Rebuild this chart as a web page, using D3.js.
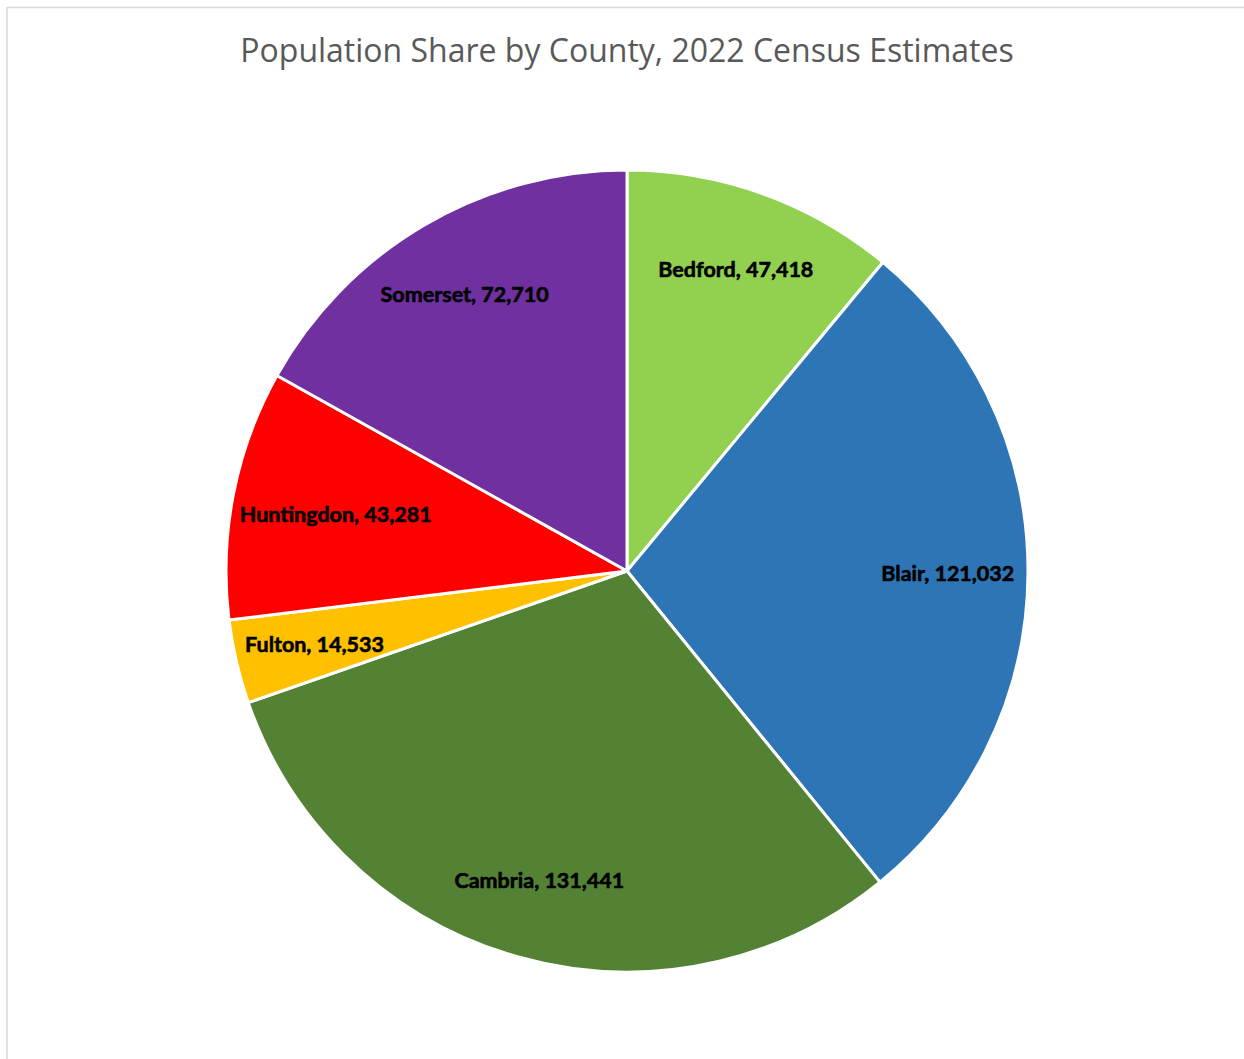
<!DOCTYPE html>
<html>
<head>
<meta charset="utf-8">
<script src="https://cdn.jsdelivr.net/npm/d3@7"></script>
<style>
  html, body { margin: 0; padding: 0; background: #fff; }
  svg { display: block; }
</style>
</head>
<body>
<svg id="chart" width="1244" height="1059"></svg>
<script>
// County populations, 2022 census estimates (clockwise from 12 o'clock)
const counties = ["Bedford", "Blair", "Cambria", "Fulton", "Huntingdon", "Somerset"];
const populations = [47418, 121032, 131441, 14533, 43281, 72710];
const sliceColors = ["#92d050", "#2e75b6", "#548235", "#ffc000", "#ff0000", "#7030a0"];
const chartTitle = "Population Share by County, 2022 Census Estimates";

const svg = d3.select("#chart");
const W = 1244, H = 1059;
const cx = 627, cy = 571, R = 401;

// chart area frame (extends past the right and bottom edges)
svg.append("rect")
  .attr("x", 7).attr("y", 7.5)
  .attr("width", W + 20).attr("height", H + 20)
  .attr("fill", "#fff")
  .attr("stroke", "#d9d9d9").attr("stroke-width", 1.5);

svg.append("text")
  .attr("x", cx).attr("y", 62)
  .attr("text-anchor", "middle")
  .attr("font-family", "'Open Sans', sans-serif")
  .attr("font-size", 32)
  .attr("fill", "#595959")
  .text(chartTitle);

const data = counties.map((c, i) => ({ name: c, value: populations[i], color: sliceColors[i] }));
const pie = d3.pie().value(d => d.value).sort(null);
const arcs = pie(data);
const arc = d3.arc().innerRadius(0).outerRadius(R);

const g = svg.append("g").attr("transform", `translate(${cx},${cy})`);

g.selectAll("path.slice")
  .data(arcs)
  .join("path")
  .attr("class", "slice")
  .attr("d", arc)
  .attr("fill", d => d.data.color)
  .attr("stroke", "#fff")
  .attr("stroke-width", 3)
  .attr("stroke-linejoin", "round");

const fmt = d3.format(",");
const labels = g.selectAll("text.lbl")
  .data(arcs)
  .join("text")
  .attr("class", "lbl")
  .attr("text-anchor", "middle")
  .attr("dominant-baseline", "central")
  .attr("font-family", "Lato, sans-serif")
  .attr("font-weight", "bold")
  .attr("font-size", 21.5)
  .attr("fill", "#000")
  .attr("stroke", "#000")
  .attr("stroke-width", 0.6)
  .text(d => `${d.data.name}, ${fmt(d.data.value)}`);

// place each label near 80% of the radius, pulling it inward until its box fits in the pie
labels.each(function(d) {
  const bb = this.getBBox();
  const mid = (d.startAngle + d.endAngle) / 2;
  const ux = Math.sin(mid), uy = -Math.cos(mid);
  let r = R * 0.8;
  const fits = rr => {
    const x = ux * rr, y = uy * rr;
    const corners = [[x - bb.width / 2, y - bb.height / 2], [x + bb.width / 2, y - bb.height / 2],
                     [x - bb.width / 2, y + bb.height / 2], [x + bb.width / 2, y + bb.height / 2]];
    return corners.every(([px, py]) => Math.hypot(px, py) <= R - 6);
  };
  while (r > 0 && !fits(r)) r -= 2;
  d3.select(this).attr("x", ux * r).attr("y", uy * r);
});
</script>
</body>
</html>
